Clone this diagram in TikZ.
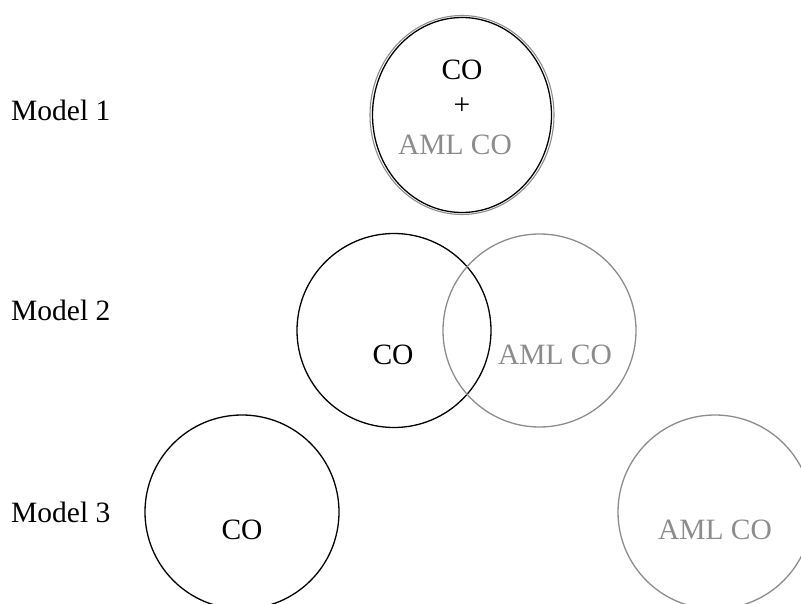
\documentclass[tikz,border=0pt]{standalone}
\usepackage{fontspec}
\setmainfont{Liberation Serif}
\usetikzlibrary{shapes.geometric}
\definecolor{amlgray}{HTML}{8C8C8C}
\begin{document}
\begin{tikzpicture}[x=1pt,y=-1pt,
  blackc/.style={draw=black,line width=1.3pt,circle,inner sep=0pt},
  grayc/.style={draw=amlgray,line width=1.3pt,circle,inner sep=0pt},
  blacke/.style={draw=black,line width=1.3pt,ellipse,inner sep=0pt},
  graye/.style={draw=amlgray,line width=1.1pt,ellipse,inner sep=0pt},
  txt/.style={font=\fontsize{29.5}{33}\selectfont,inner sep=0pt},
  gtxt/.style={txt,text=amlgray},
  lbl/.style={txt,anchor=west}]
\useasboundingbox (0,0) rectangle (801,604);
\clip (0,0) rectangle (801,604);
% Model 1
\node[lbl] (m1) at (11,110) {Model 1};
\node[graye,minimum width=184pt,minimum height=199pt] (g1) at (462,115) {};
\node[blacke,minimum width=179pt,minimum height=195pt] (b1) at (462,115) {};
\node[txt] (co1) at (462,70) {CO};
\node[txt] (plus1) at (462,106) {+};
\node[gtxt] (aml1) at (455,145) {AML CO};
% Model 2
\node[lbl] (m2) at (11,310) {Model 2};
\node[blackc,minimum size=194pt] (b2) at (394,330.5) {};
\node[grayc,minimum size=193pt] (g2) at (539.5,330.5) {};
\node[txt] (co2) at (393,355) {CO};
\node[gtxt] (aml2) at (555,355) {AML CO};
% Model 3
\node[lbl] (m3) at (11,512) {Model 3};
\node[blackc,minimum size=194pt] (b3) at (242,512) {};
\node[grayc,minimum size=194pt] (g3) at (715,512) {};
\node[txt] (co3) at (242,530) {CO};
\node[gtxt] (aml3) at (715,530) {AML CO};
\end{tikzpicture}
\end{document}
